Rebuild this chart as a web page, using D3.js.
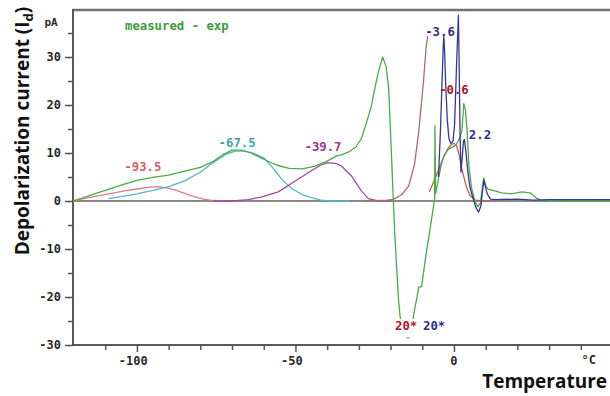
<!DOCTYPE html>
<html><head><meta charset="utf-8">
<script src="https://cdn.jsdelivr.net/npm/d3@7"></script>
<style>body{margin:0;background:#fff}svg{display:block}</style>
</head><body>
<svg id="c" width="610" height="396"></svg>
<script>
// ---- data ----
const xMajorTicks = [-100, -50, 0];
const xMinorTicks = [-110, -90, -80, -70, -60, -40, -30, -20, -10, 10, 20, 30, 40];
const yMajorTicks = [-30, -20, -10, 0, 10, 20, 30];
const yMinorTicks = [-25, -15, -5, 5, 15, 25, 35];

const measured = [[-120,0],[-115,1.1],[-110,2.2],[-105,3.3],[-100,4.3],[-95,4.9],[-90,5.4],[-85,6.2],[-80,7.0],[-76,8.2],[-73,9.6],[-70,10.6],[-67,10.6],[-64,10.0],[-60,8.7],[-56,7.5],[-52,6.8],[-48,6.7],[-44,7.2],[-40,8.3],[-37,9.4],[-35.5,9.6],[-33,10.3],[-31,11.2],[-29.2,13],[-27.5,16.5],[-26,19.9],[-24.8,24],[-23.8,27],[-22.5,30],[-21.4,28],[-20.6,23.5],[-19.7,9.4],[-19.05,-1],[-18.7,-6.5],[-18.1,-13.6],[-17.5,-20.5],[-17.0,-24],[-16.2,-28],[-14.5,-28.6],[-13.2,-28],[-12.8,-24],[-11.1,-18],[-10.2,-17.8],[-9,-12],[-7.7,-6.5],[-6.1,0.4],[-6.0,15.7],[-5.8,1.5],[-5.2,3.5],[-4.8,5],[-4,7.5],[-3.2,9.4],[-1.6,10.9],[0.3,11.5],[1.5,12.6],[2.5,14.5],[3.1,20.3],[3.6,19],[4.1,15.1],[4.7,7.3],[5.6,2.5],[6.6,0],[7.5,-1.2],[8.3,-0.5],[9,3],[9.4,4.8],[10,3.2],[10.8,2.4],[12.9,2.1],[15,1.7],[18,1.5],[21.5,1.9],[24,1.7],[26,0.6],[28,0.1],[50,0]];
const peak935 = [[-120,0.1],[-116,0.6],[-112,1.1],[-108,1.6],[-104,2.1],[-100,2.5],[-96,2.9],[-93.5,3.0],[-91,2.8],[-88,2.3],[-85,1.6],[-82,0.9],[-79,0.4],[-76,0.1],[-72,0]];
const peak675 = [[-109,0.5],[-105,0.9],[-100,1.5],[-95,2.2],[-90,3.0],[-85,4.2],[-80,6.0],[-76,8.0],[-72,9.7],[-69,10.4],[-66,10.4],[-63,9.9],[-60,9.0],[-57,6.8],[-54,4.3],[-51,2.5],[-48,1.4],[-45,0.7],[-42,0.2],[-39,0],[-33,0]];
const peak397 = [[-76,0],[-70,0],[-65,0.3],[-60.8,0.8],[-55.4,1.9],[-50.4,4.0],[-45,6.3],[-42,7.5],[-39.7,8.0],[-37,7.8],[-35.5,7.3],[-32.3,5.2],[-29.2,2.1],[-27,0.5],[-24,0],[-20,0]];
const peakRise = [[-28,0],[-22,0.1],[-19,0.4],[-16.5,1.3],[-14.3,3.1],[-13.4,5.2],[-12.4,7.8],[-11.1,14.5],[-9.6,25],[-8.8,31.9],[-8.3,34.4]];
const peak06 = [[-7.8,1.9],[-6.5,3.8],[-5,6.3],[-3.5,8.8],[-2,10.8],[-0.8,11.8],[0,12],[0.8,11.5],[1.5,10],[2.2,7.5],[3,5.3],[4,2.8],[5,1.2],[6.2,0.4],[7,0.1],[12,0]];
const peak36 = [[-4.9,5],[-4.3,14],[-3.8,24],[-3.4,32],[-3.2,34.3],[-3.0,32],[-2.6,24],[-2.1,17],[-1.6,13],[-1.0,12],[-0.3,12.5],[0.2,16],[0.9,30],[1.4,38.7],[1.6,30],[1.9,15],[2.2,6],[2.6,9],[3.0,12.5],[3.3,12.8],[3.8,10],[4.3,6.5],[5,3],[5.6,1.5],[6.3,0],[7,-1.5],[7.8,-2.3],[8.5,-1],[9,2],[9.4,4.4],[9.9,3],[10.5,1.5],[11.5,0.4],[13,0.3],[20,0.4],[25,0.2],[30,0.3],[50,0.3]];

const peakLabels = [
  {text: "-93.5", t: -98.1, v: 6.25, color: "#d9606a"},
  {text: "-67.5", t: -68.4, v: 11.25, color: "#3ea3b5"},
  {text: "-39.7", t: -41.3, v: 10.4, color: "#99389a"},
  {text: "-3.6", t: -4.4, v: 34.4, color: "#2c2f8a"},
  {text: "-0.6", t: 0, v: 22.3, color: "#b0141c"},
  {text: "2.2", t: 8.2, v: 12.9, color: "#2c2f8a"}
];

// ---- scales ----
const x = d3.scaleLinear().domain([-120, 50]).range([73.5, 612.5]);
const y = d3.scaleLinear().domain([-30, 40]).range([345, 9]);

const svg = d3.select("#c");
const mono = "'DejaVu Sans Mono', monospace";

svg.append("defs").append("clipPath").attr("id", "plot")
  .append("rect").attr("x", 73).attr("y", 9).attr("width", 540).attr("height", 345);

// frame
svg.append("line").attr("x1", 73).attr("x2", 610).attr("y1", 10).attr("y2", 10)
  .attr("stroke", "#707070").attr("stroke-width", 2.5);
svg.append("line").attr("x1", 73).attr("x2", 73).attr("y1", 9).attr("y2", 346)
  .attr("stroke", "#5a5a5a").attr("stroke-width", 2);
svg.append("line").attr("x1", 72).attr("x2", 612).attr("y1", 345).attr("y2", 345)
  .attr("stroke", "#5a5a5a").attr("stroke-width", 2);
// zero line
svg.append("line").attr("x1", 73).attr("x2", 612).attr("y1", y(0)).attr("y2", y(0))
  .attr("stroke", "#606060").attr("stroke-width", 1.6);

// y axis ticks
const yAxisMaj = d3.axisLeft(y).tickValues(yMajorTicks).tickSize(8).tickFormat(d3.format("d"));
const gy = svg.append("g").attr("transform", "translate(73,0)").call(yAxisMaj);
gy.select(".domain").remove();
gy.selectAll("line").attr("stroke", "#555").attr("stroke-width", 1.5);
gy.selectAll("text").attr("x", -12).attr("font-family", mono).attr("font-weight", "bold")
  .attr("font-size", "12px").attr("fill", "#2a2a2a").text(d => d < 0 ? "-" + Math.abs(d) : d);
const gy2 = svg.append("g").attr("transform", "translate(73,0)")
  .call(d3.axisLeft(y).tickValues(yMinorTicks).tickSize(5).tickFormat(""));
gy2.select(".domain").remove();
gy2.selectAll("line").attr("stroke", "#555").attr("stroke-width", 1.5);

// x axis ticks
const gx = svg.append("g").attr("transform", "translate(0,345)")
  .call(d3.axisBottom(x).tickValues(xMajorTicks).tickSize(7).tickFormat(""));
gx.select(".domain").remove();
gx.selectAll("line").attr("stroke", "#555").attr("stroke-width", 1.5);
const gx2 = svg.append("g").attr("transform", "translate(0,345)")
  .call(d3.axisBottom(x).tickValues(xMinorTicks).tickSize(5).tickFormat(""));
gx2.select(".domain").remove();
gx2.selectAll("line").attr("stroke", "#555").attr("stroke-width", 1.5);
// x labels: digits centred on tick, minus sign hanging left
svg.append("g").selectAll("text").data(xMajorTicks).join("text")
  .attr("x", d => x(d) + String(Math.abs(d)).length * 7.2 / 2)
  .attr("y", 365).attr("text-anchor", "end")
  .attr("font-family", mono).attr("font-weight", "bold").attr("font-size", "12px").attr("fill", "#2a2a2a")
  .text(d => d < 0 ? "-" + Math.abs(d) : d);
svg.append("text").attr("x", x(40) + 8).attr("y", 364).attr("text-anchor", "middle")
  .attr("font-family", mono).attr("font-weight", "bold").attr("font-size", "12px").attr("fill", "#2a2a2a").text("°C");
svg.append("text").attr("x", 51).attr("y", 26).attr("text-anchor", "middle")
  .attr("font-family", mono).attr("font-weight", "bold").attr("font-size", "11px").attr("fill", "#2a2a2a").text("pA");

// curves
const line = d3.line().x(d => x(d[0])).y(d => y(d[1]));
const plot = svg.append("g").attr("clip-path", "url(#plot)");
const series = [
  {data: peak935, color: "#e07a80"},
  {data: peak675, color: "#4fb6c6"},
  {data: peak397, color: "#a04aa2"},
  {data: peakRise, color: "#b06a6a"},
  {data: peak06, color: "#c8604c"},
  {data: measured, color: "#4aab4a"},
  {data: peak36, color: "#34389a"}
];
plot.selectAll("path.s").data(series).join("path").attr("class", "s")
  .attr("d", d => line(d.data)).attr("fill", "none")
  .attr("stroke", d => d.color).attr("stroke-width", 1.3).attr("stroke-linejoin", "round");

// peak labels
svg.append("g").selectAll("text").data(peakLabels).join("text")
  .attr("x", d => x(d.t)).attr("y", d => y(d.v))
  .attr("font-family", mono).attr("font-weight", "bold").attr("font-size", "12.3px")
  .attr("fill", d => d.color).attr("text-anchor", "middle").text(d => d.text);

svg.append("text").attr("x", 125).attr("y", 30)
  .attr("font-family", mono).attr("font-weight", "bold").attr("font-size", "12.3px")
  .attr("fill", "#3a9a3a").text("measured - exp");
// "20*" markers with white backing
svg.append("rect").attr("x", 392).attr("y", 319).attr("width", 58).attr("height", 18.5).attr("fill", "#fff");
svg.append("text").attr("x", 395).attr("y", 330)
  .attr("font-family", mono).attr("font-weight", "bold").attr("font-size", "12.3px")
  .attr("fill", "#b0141c").text("20*");
svg.append("text").attr("x", 423).attr("y", 330)
  .attr("font-family", mono).attr("font-weight", "bold").attr("font-size", "12.3px")
  .attr("fill", "#2c2f8a").text("20*");

// axis titles
const yt = svg.append("text").attr("transform", "translate(29,131) rotate(-90)")
  .attr("text-anchor", "middle").attr("font-family", "'Open Sans', sans-serif")
  .attr("font-weight", "bold").attr("font-size", "19px").attr("fill", "#111");
yt.append("tspan").text("Depolarization current (I");
yt.append("tspan").attr("font-size", "13px").attr("dy", 4).text("d");
yt.append("tspan").attr("dy", -4).text(")");
svg.append("text").attr("x", 607).attr("y", 388).attr("text-anchor", "end")
  .attr("font-family", "'Open Sans', sans-serif").attr("font-weight", "bold")
  .attr("font-size", "19px").attr("fill", "#111").text("Temperature");
</script>
</body></html>
